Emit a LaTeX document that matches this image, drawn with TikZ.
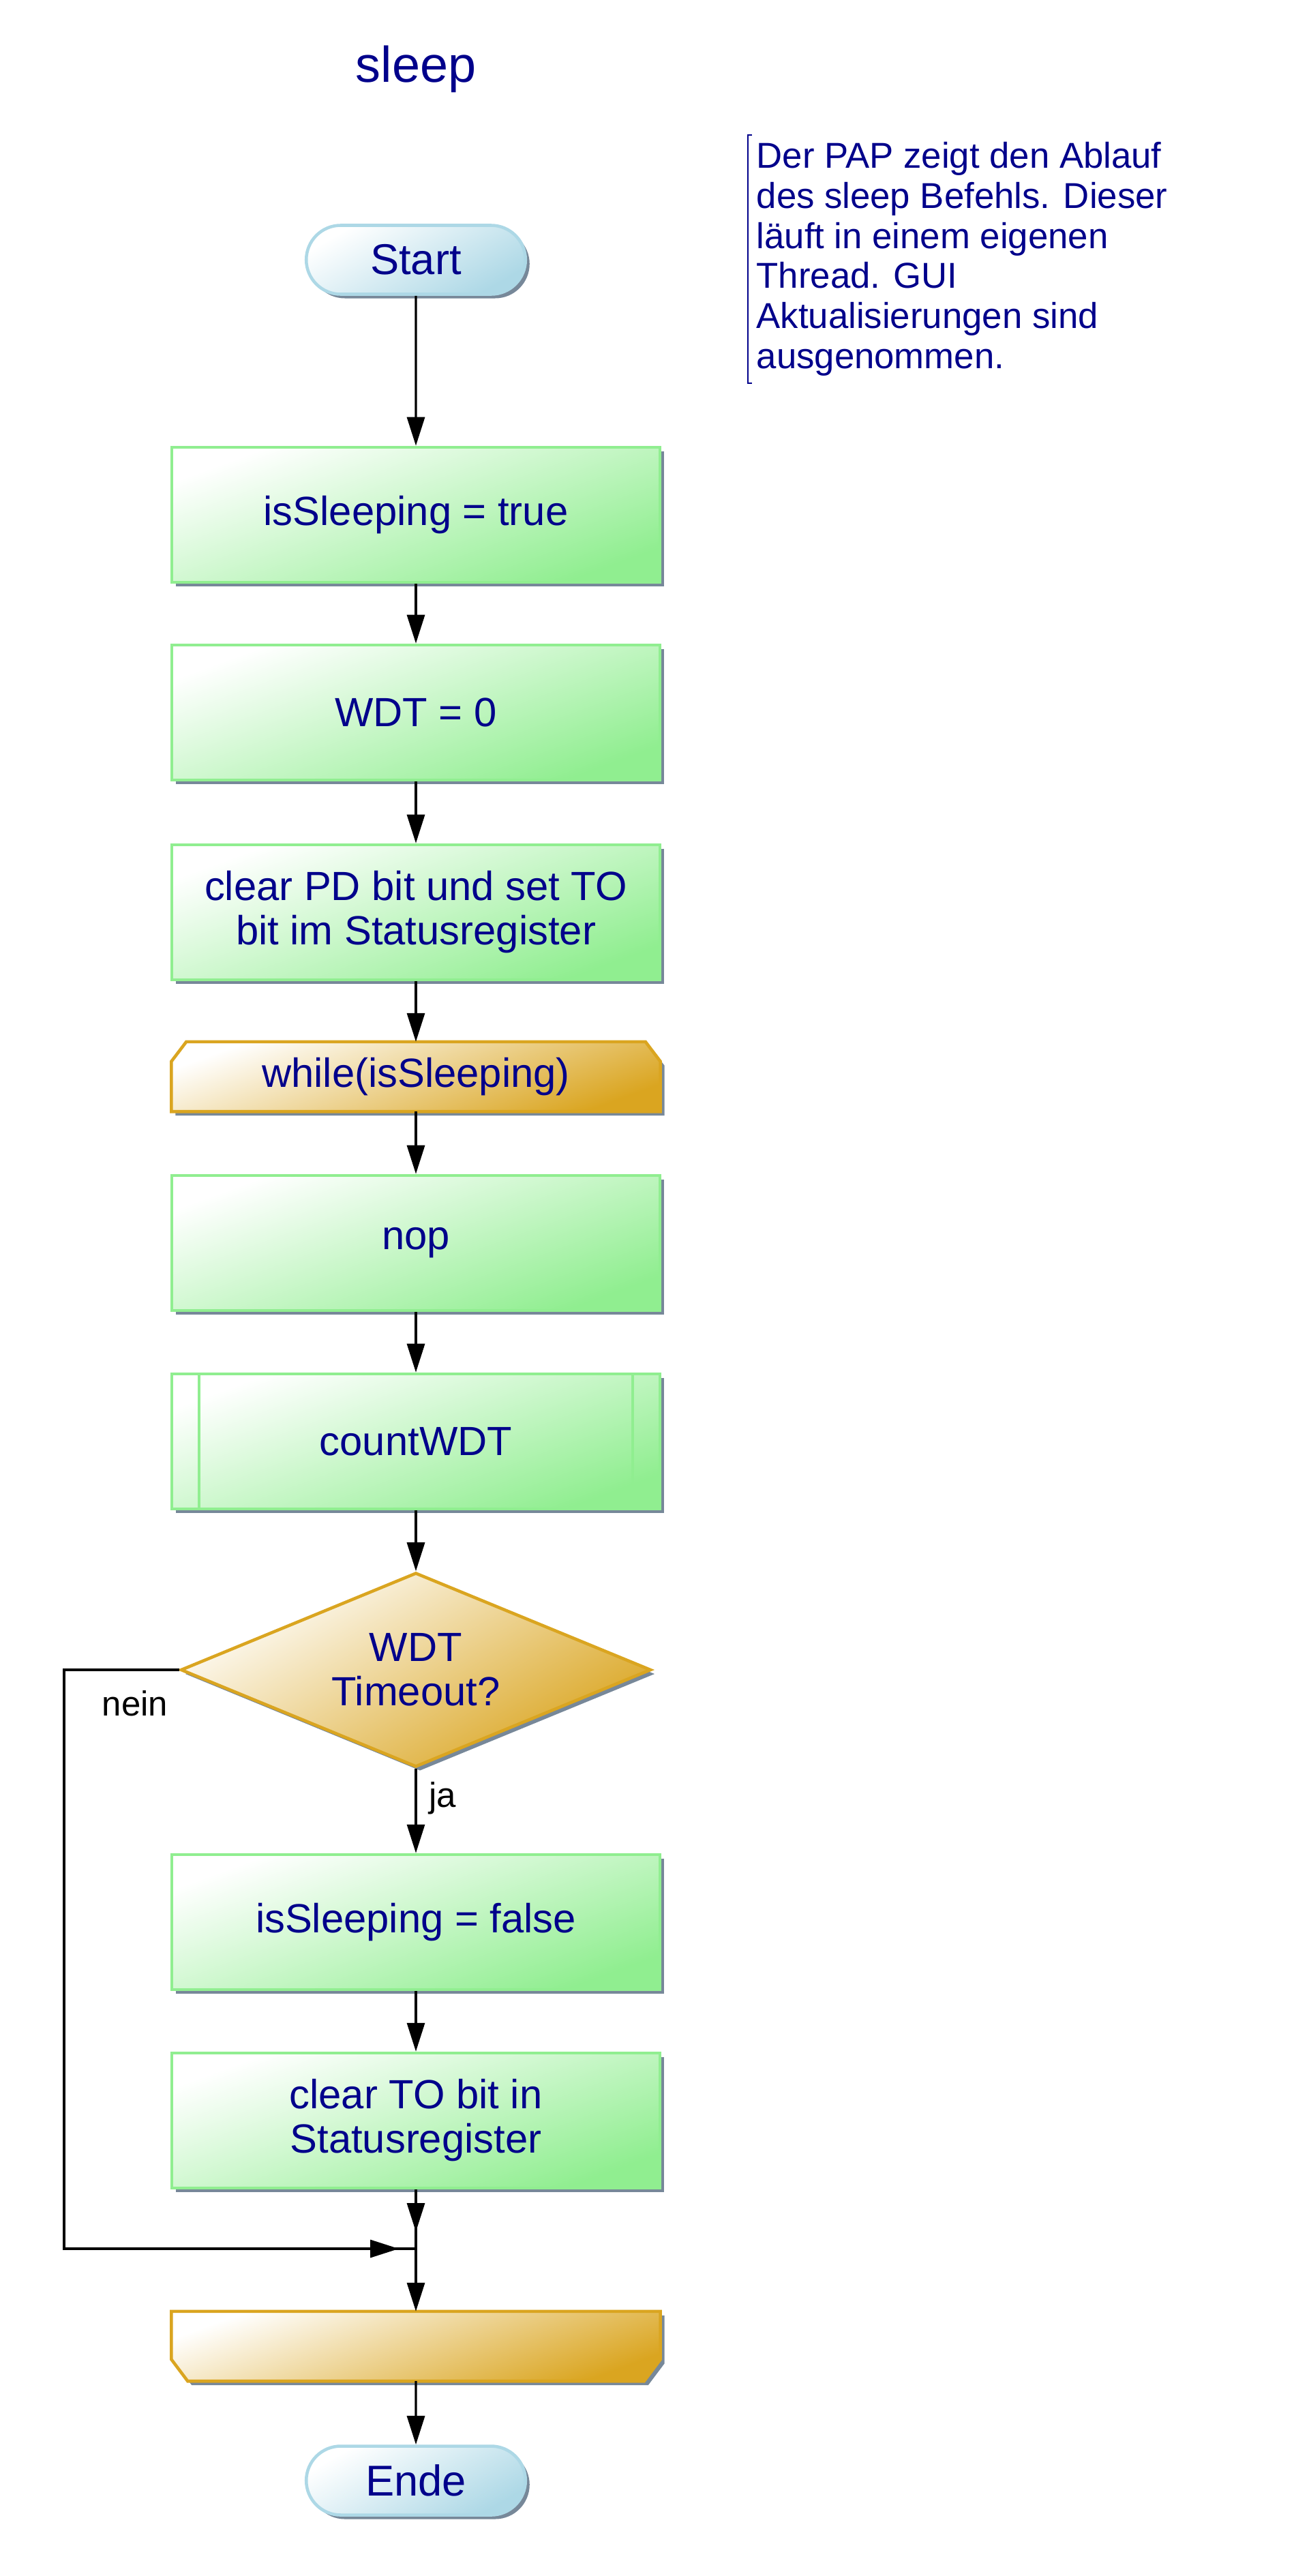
\documentclass[tikz,border=0pt]{standalone}
\usepackage{fontspec}
\setmainfont{Liberation Sans}
\usetikzlibrary{arrows.meta, shapes.geometric, shapes.misc, shadows, backgrounds}

\definecolor{papblue}{RGB}{0,0,139}
\definecolor{procgreen}{RGB}{144,238,144}
\definecolor{loopgold}{RGB}{218,165,32}
\definecolor{termblue}{RGB}{173,216,230}
\definecolor{shadowgray}{RGB}{119,136,153}

\begin{document}
\begin{tikzpicture}[
        >={Triangle[length=0.42cm, width=0.26cm]},
        boxfont/.style={font=\fontsize{17}{18.5}\selectfont, text=papblue},
        pshadow/.style={drop shadow={shadow xshift=0.06cm, shadow yshift=-0.06cm, fill=shadowgray, opacity=1}},
        proc/.style={rectangle, draw=procgreen, line width=1.3pt, top color=white, bottom color=procgreen, shading angle=20, minimum width=7.16cm, minimum height=1.98cm, align=center, boxfont, pshadow},
        subproc/.style={proc, path picture={
            \draw[procgreen, line width=1.3pt] ([xshift=0.4cm]path picture bounding box.north west) -- ([xshift=0.4cm]path picture bounding box.south west);
            \draw[procgreen, line width=1.3pt] ([xshift=-0.4cm]path picture bounding box.north east) -- ([xshift=-0.4cm]path picture bounding box.south east);}},
        loopbox/.style={rectangle, minimum width=7.16cm, minimum height=1.01cm, inner sep=0pt, align=center, boxfont},
        loopfill/.style={draw=loopgold, line width=1.3pt, top color=white, bottom color=loopgold, shading angle=20, pshadow},
        decision/.style={diamond, aspect=2.4, draw=loopgold, line width=1.3pt, top color=white, bottom color=loopgold, shading angle=30, minimum width=6.9cm, minimum height=2.85cm, inner sep=0pt, align=center, boxfont, pshadow},
        terminal/.style={rounded rectangle, draw=termblue, line width=1.3pt, top color=white, bottom color=termblue, shading angle=30, minimum width=3.45cm, minimum height=1.01cm, font=\fontsize{18}{20}\selectfont, text=papblue, pshadow},
        conn/.style={->, line width=0.9pt, black},
        wire/.style={line width=0.9pt, black},
        lbl/.style={font=\fontsize{14.5}{16}\selectfont, text=black, inner sep=0pt}
    ]
    \useasboundingbox (0,0) rectangle (19.19,-37.78);

    % --- Titel & Kommentar ---
    \node[font=\fontsize{21}{24}\selectfont, text=papblue] (title) at (6.10,-1.01) {sleep};
    \node[font=\fontsize{15}{16.7}\selectfont, text=papblue, align=left, anchor=north west, inner xsep=0.12cm, inner ysep=0.1cm] (note) at (10.97,-1.98)
        {Der PAP zeigt den Ablauf\\des sleep Befehls. Dieser\\läuft in einem eigenen\\Thread. GUI\\Aktualisierungen sind\\ausgenommen.};
    \draw[papblue, line width=0.7pt] ([xshift=0.06cm]note.north west) -- (note.north west) -- (note.south west) -- ([xshift=0.06cm]note.south west);

    % --- Ablauf ---
    \node[terminal] (start) at (6.10,-3.81) {Start};
    \node[proc] (setsleep) at (6.10,-7.55) {isSleeping = true};
    \node[proc] (wdtreset) at (6.10,-10.45) {WDT = 0};
    \node[proc] (statusbits) at (6.10,-13.38) {clear PD bit und set TO\\bit im Statusregister};
    \node[loopbox] (loopstart) at (6.10,-15.79) {while(isSleeping)};
    \node[proc] (nop) at (6.10,-18.23) {nop};
    \node[subproc] (countwdt) at (6.10,-21.14) {countWDT};
    \node[decision] (timeout) at (6.10,-24.49) {WDT\\Timeout?};
    \node[proc] (clearsleep) at (6.10,-28.19) {isSleeping = false};
    \node[proc] (clearto) at (6.10,-31.10) {clear TO bit in\\Statusregister};
    \coordinate (join) at (6.10,-32.98);
    \coordinate (loopleft) at (0.94,-24.49);
    \node[loopbox] (loopend) at (6.10,-34.41) {};
    \node[terminal] (ende) at (6.10,-36.38) {Ende};

    % Schleifenbegrenzung (abgeschraegte Ecken)
    \begin{scope}[on background layer]
    \path[loopfill] (loopstart.south west) -- ([yshift=-0.29cm]loopstart.north west) -- ([xshift=0.22cm]loopstart.north west)
        -- ([xshift=-0.22cm]loopstart.north east) -- ([yshift=-0.29cm]loopstart.north east) -- (loopstart.south east) -- cycle;
    \path[loopfill] (loopend.north west) -- ([yshift=0.32cm]loopend.south west) -- ([xshift=0.24cm]loopend.south west)
        -- ([xshift=-0.24cm]loopend.south east) -- ([yshift=0.32cm]loopend.south east) -- (loopend.north east) -- cycle;
    \end{scope}

    % --- Kanten ---
    \draw[conn] (start) -- (setsleep);
    \draw[conn] (setsleep) -- (wdtreset);
    \draw[conn] (wdtreset) -- (statusbits);
    \draw[conn] (statusbits) -- (loopstart);
    \draw[conn] (loopstart) -- (nop);
    \draw[conn] (nop) -- (countwdt);
    \draw[conn] (countwdt) -- (timeout);
    \draw[conn] (timeout) -- (clearsleep);
    \node[lbl] (ja) at (6.49,-26.37) {ja};
    \draw[conn] (clearsleep) -- (clearto);
    % Zusammenfuehrung: Linie bis zum Punkt, Spitze kurz davor
    \draw[wire] (clearto) -- (join);
    \draw[conn, shorten >=0.25cm] (clearto) -- (join);
    \draw[wire] (timeout.west) -- (loopleft) |- (join);
    \draw[conn, shorten >=0.25cm] (timeout.west) -- (loopleft) |- (join);
    \node[lbl] (nein) at (1.98,-24.98) {nein};
    \draw[conn] (join) -- (loopend);
    \draw[conn] (loopend) -- (ende);
\end{tikzpicture}
\end{document}
